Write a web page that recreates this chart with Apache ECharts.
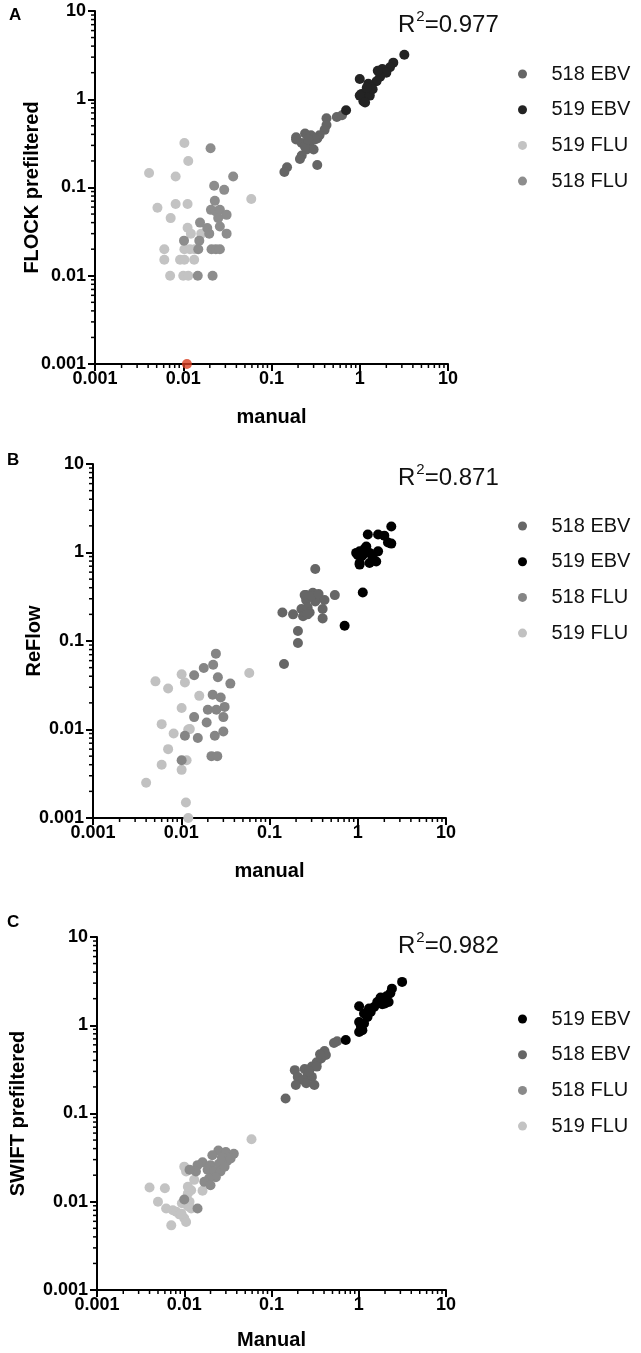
<!DOCTYPE html>
<html>
<head>
<meta charset="utf-8">
<script src="https://cdn.jsdelivr.net/npm/echarts/dist/echarts.min.js"></script>
<style>html,body{margin:0;padding:0;background:#fff;}#c{width:641px;height:1353px;}</style>
</head>
<body>
<div id="c"></div>
<script>
// ---------- tick labels ----------
const tickLabels = ['0.001', '0.01', '0.1', '1', '10'];

// ---------- Panel A: FLOCK prefiltered vs manual ----------
const a519FLU = [[0.0103,0.32],[0.0114,0.2],[0.0041,0.146],[0.0082,0.133],[0.059,0.074],[0.0051,0.059],[0.0082,0.065],[0.0112,0.065],[0.0072,0.045],[0.0112,0.035],[0.0122,0.030],[0.016,0.030],[0.0061,0.020],[0.0103,0.020],[0.0119,0.020],[0.0135,0.020],[0.0061,0.0152],[0.0092,0.0152],[0.0103,0.0152],[0.0133,0.0152],[0.0071,0.010],[0.010,0.010],[0.0114,0.010]];
const a518FLU = [[0.0204,0.279],[0.0368,0.133],[0.0224,0.1045],[0.0291,0.094],[0.0228,0.0706],[0.0206,0.0558],[0.0234,0.0535],[0.026,0.0558],[0.031,0.049],[0.0249,0.045],[0.026,0.0361],[0.031,0.030],[0.0155,0.040],[0.0187,0.0347],[0.0197,0.030],[0.0152,0.025],[0.0102,0.025],[0.0209,0.020],[0.0234,0.020],[0.026,0.020],[0.0148,0.020],[0.0146,0.010],[0.0215,0.010]];
const a518EBV = [[0.55,0.63],[0.63,0.66],[0.42,0.61],[0.42,0.51],[0.40,0.45],[0.35,0.39],[0.33,0.36],[0.28,0.39],[0.24,0.41],[0.19,0.35],[0.22,0.32],[0.27,0.30],[0.25,0.27],[0.22,0.23],[0.21,0.21],[0.30,0.27],[0.33,0.18],[0.15,0.17],[0.14,0.15],[0.31,0.35],[0.24,0.29],[0.19,0.37],[0.26,0.35]];
const a519EBV = [[3.2,3.2],[2.4,2.6],[2.2,2.3],[1.8,2.2],[2.0,2.0],[1.7,1.8],[1.55,1.6],[1.0,1.7],[1.25,1.5],[1.35,1.35],[1.05,1.15],[1.15,1.05],[1.1,0.95],[1.3,1.1],[1.4,1.3],[0.7,0.75],[1.6,2.1],[1.2,1.35],[1.0,1.1],[1.15,0.92]];
const aFlagged = [[0.011,0.001]];

// ---------- Panel B: ReFlow vs manual ----------
const b519FLU = [[0.0101,0.042],[0.0051,0.035],[0.0071,0.029],[0.011,0.034],[0.016,0.024],[0.0101,0.0175],[0.006,0.0115],[0.0082,0.009],[0.012,0.010],[0.0125,0.0101],[0.0071,0.006],[0.006,0.004],[0.0101,0.0035],[0.0115,0.0045],[0.004,0.0025],[0.0113,0.0015],[0.012,0.001],[0.059,0.0435]];
const b518FLU = [[0.0247,0.072],[0.023,0.054],[0.018,0.0495],[0.014,0.041],[0.026,0.039],[0.036,0.033],[0.0227,0.0247],[0.028,0.023],[0.020,0.0167],[0.025,0.0167],[0.031,0.018],[0.014,0.0138],[0.0194,0.012],[0.030,0.0138],[0.011,0.0085],[0.0154,0.008],[0.024,0.0085],[0.030,0.0095],[0.022,0.005],[0.0256,0.005],[0.0101,0.0045]];
const b518EBV = [[0.33,0.65],[0.25,0.33],[0.31,0.35],[0.35,0.31],[0.42,0.29],[0.55,0.33],[0.26,0.29],[0.33,0.28],[0.14,0.21],[0.185,0.20],[0.23,0.23],[0.27,0.24],[0.24,0.19],[0.285,0.21],[0.40,0.23],[0.40,0.18],[0.21,0.13],[0.21,0.095],[0.146,0.055],[0.26,0.33],[0.30,0.32],[0.36,0.34],[0.27,0.2]];
const b519EBV = [[2.4,1.97],[1.3,1.6],[1.7,1.6],[2.0,1.55],[2.4,1.26],[2.2,1.3],[1.25,1.17],[1.05,1.03],[0.96,0.99],[1.14,0.94],[1.36,0.99],[1.7,1.03],[1.48,0.87],[1.05,0.76],[1.36,0.76],[1.62,0.79],[1.14,0.354],[0.71,0.149],[1.0,0.94],[1.05,0.73],[1.1,0.9],[1.2,1.1]];

// ---------- Panel C: SWIFT prefiltered vs Manual ----------
const c519FLU = [[0.010,0.025],[0.0105,0.022],[0.013,0.0177],[0.012,0.0135],[0.011,0.0124],[0.0162,0.0133],[0.004,0.0145],[0.006,0.0142],[0.005,0.010],[0.0062,0.0084],[0.0074,0.008],[0.0081,0.0077],[0.0088,0.0072],[0.010,0.0065],[0.0105,0.0059],[0.0071,0.0054],[0.0115,0.010],[0.011,0.0089],[0.012,0.0084],[0.0094,0.0096],[0.059,0.051],[0.011,0.0148],[0.0093,0.0073]];
const c518FLU = [[0.0246,0.038],[0.030,0.0367],[0.037,0.035],[0.021,0.0337],[0.027,0.032],[0.0162,0.028],[0.020,0.026],[0.025,0.027],[0.0142,0.026],[0.0136,0.022],[0.0115,0.023],[0.0185,0.023],[0.022,0.022],[0.026,0.022],[0.023,0.019],[0.0193,0.0184],[0.017,0.0168],[0.020,0.0154],[0.010,0.0106],[0.0142,0.0084],[0.031,0.029],[0.029,0.025],[0.034,0.031]];
const c518EBV = [[0.565,0.66],[0.52,0.63],[0.405,0.51],[0.42,0.46],[0.37,0.42],[0.33,0.38],[0.29,0.34],[0.24,0.32],[0.185,0.31],[0.20,0.26],[0.26,0.28],[0.29,0.26],[0.23,0.24],[0.25,0.22],[0.19,0.21],[0.31,0.21],[0.145,0.148],[0.36,0.47],[0.33,0.34],[0.27,0.3]];
const c519EBV = [[3.14,3.1],[2.4,2.6],[2.3,2.3],[2.08,2.13],[2.2,1.83],[1.78,2.06],[1.63,1.83],[1.86,1.73],[2.0,1.76],[1.5,1.61],[1.31,1.55],[1.37,1.41],[1.01,1.64],[1.15,1.36],[1.26,1.24],[1.01,1.09],[1.15,1.05],[1.1,0.88],[1.06,0.96],[0.71,0.68],[1.01,0.84]];

// ---------- panel texts ----------
const panelLetters = ['A', 'B', 'C'];
const xTitles = ['manual', 'manual', 'Manual'];
const yTitles = ['FLOCK prefiltered', 'ReFlow', 'SWIFT prefiltered'];
const r2Values = ['0.977', '0.871', '0.982'];
const legendOrder = [
  ['518 EBV', '519 EBV', '519 FLU', '518 FLU'],
  ['518 EBV', '519 EBV', '518 FLU', '519 FLU'],
  ['519 EBV', '518 EBV', '518 FLU', '519 FLU']
];

// ---------- styling / layout ----------
const FONT = 'Liberation Sans, Arial, Helvetica, sans-serif';
const AXMIN = 0.001, AXMAX = 10;
const colors = [
  {'518 EBV':'#656565','519 EBV':'#232323','519 FLU':'#c3c3c3','518 FLU':'#8d8d8d'},
  {'518 EBV':'#666666','519 EBV':'#000000','518 FLU':'#858585','519 FLU':'#c1c1c1'},
  {'518 EBV':'#666666','519 EBV':'#000000','518 FLU':'#8a8a8a','519 FLU':'#c3c3c3'}
];
const grids = [
  {left:95, top:11, width:353, height:353},
  {left:93, top:464, width:353, height:354},
  {left:93, top:937, width:353, height:353}
];
const yNameGaps = [53, 49, 69];
const xNameGaps = [43, 43, 40];
const r2Pos = [{left:398, top:9}, {left:398, top:462}, {left:398, top:930}];
const legendTops = [58, 510, 1003];
const letterPos = [{left:9, top:7}, {left:7, top:452}, {left:7, top:914}];

const panelData = [
  {'519 FLU':a519FLU, '518 FLU':a518FLU, '518 EBV':a518EBV, '519 EBV':a519EBV},
  {'519 FLU':b519FLU, '518 FLU':b518FLU, '518 EBV':b518EBV, '519 EBV':b519EBV},
  {'519 FLU':c519FLU, '518 FLU':c518FLU, '518 EBV':c518EBV, '519 EBV':c519EBV}
];
const drawOrder = ['519 FLU', '518 FLU', '518 EBV', '519 EBV'];

const minorVals = [];
for (let e = -3; e < 1; e++) for (let m = 2; m <= 9; m++) minorVals.push(+(m * Math.pow(10, e)).toPrecision(3));

const xAxes = [], yAxes = [], series = [], legends = [], titles = [];
for (let i = 0; i < 3; i++) {
  const common = {
    type:'log', logBase:10, min:AXMIN, max:AXMAX, gridIndex:i,
    axisLine:{show:true, onZero:false, lineStyle:{color:'#000', width:2}},
    axisTick:{show:true, length:7, lineStyle:{color:'#000', width:2}},
    splitLine:{show:false},
    nameLocation:'middle',
    nameMoveOverlap:false,
    nameTextStyle:{fontFamily:FONT, fontWeight:'bold', fontSize:20, color:'#000'},
    axisLabel:{fontFamily:FONT, fontWeight:'bold', fontSize:18, color:'#000',
      formatter: v => tickLabels[Math.round(Math.log10(v)) + 3]}
  };
  xAxes.push(Object.assign({}, common, {name:xTitles[i], nameGap:xNameGaps[i],
    axisLabel:Object.assign({}, common.axisLabel, {margin:6})}));
  yAxes.push(Object.assign({}, common, {name:yTitles[i], nameGap:yNameGaps[i],
    axisLabel:Object.assign({}, common.axisLabel, {margin:9})}));

  drawOrder.forEach(nm => {
    series.push({
      type:'scatter', name:nm, xAxisIndex:i, yAxisIndex:i,
      data:panelData[i][nm], symbol:'circle', symbolSize:10,
      itemStyle:{color:colors[i][nm], opacity:1}
    });
  });
  if (i === 0) {
    series.push({type:'scatter', name:'flagged', xAxisIndex:0, yAxisIndex:0, data:aFlagged,
      symbol:'circle', symbolSize:10, itemStyle:{color:'#d83c1e'}, clip:false, z:5});
  }
  // minor log ticks (2..9 x 10^k), drawn through the axis scales
  series.push({
    type:'custom', xAxisIndex:i, yAxisIndex:i, silent:true, clip:false,
    data:minorVals.map(v => [v, v]),
    renderItem:(params, api) => {
      const v = api.value(0);
      const px = api.coord([v, AXMIN]);
      const py = api.coord([AXMIN, v]);
      return {type:'group', children:[
        {type:'line', shape:{x1:px[0], y1:px[1], x2:px[0], y2:px[1] + 4}, style:{stroke:'#000', lineWidth:1.5}},
        {type:'line', shape:{x1:py[0], y1:py[1], x2:py[0] - 4, y2:py[1]}, style:{stroke:'#000', lineWidth:1.5}}
      ]};
    }
  });

  legends.push({
    orient:'vertical', left:513, top:legendTops[i],
    itemWidth:48, itemHeight:9, itemGap:13.7, icon:'circle',
    selectedMode:false,
    textStyle:{fontFamily:FONT, fontSize:20, color:'#111', lineHeight:22},
    data:legendOrder[i].map(nm => ({name:nm, itemStyle:{color:colors[i][nm]}}))
  });

  titles.push({
    text:'{a|R}{s|2}{a|=' + r2Values[i] + '}',
    left:r2Pos[i].left, top:r2Pos[i].top, padding:0,
    textStyle:{fontWeight:'normal', rich:{
      a:{fontFamily:FONT, fontWeight:'normal', fontSize:24, color:'#111', lineHeight:28, verticalAlign:'bottom'},
      s:{fontFamily:FONT, fontWeight:'normal', fontSize:15, color:'#111', lineHeight:26, verticalAlign:'top', padding:[0,0,0,1]}
    }}
  });
  titles.push({
    text:panelLetters[i], left:letterPos[i].left, top:letterPos[i].top, padding:0,
    textStyle:{fontFamily:FONT, fontWeight:'bold', fontSize:17, color:'#000'}
  });
}

const chart = echarts.init(document.getElementById('c'), null, {renderer:'canvas'});
chart.setOption({
  animation:false,
  backgroundColor:'#fff',
  title:titles,
  legend:legends,
  grid:grids,
  xAxis:xAxes,
  yAxis:yAxes,
  series:series
});
</script>
</body>
</html>
